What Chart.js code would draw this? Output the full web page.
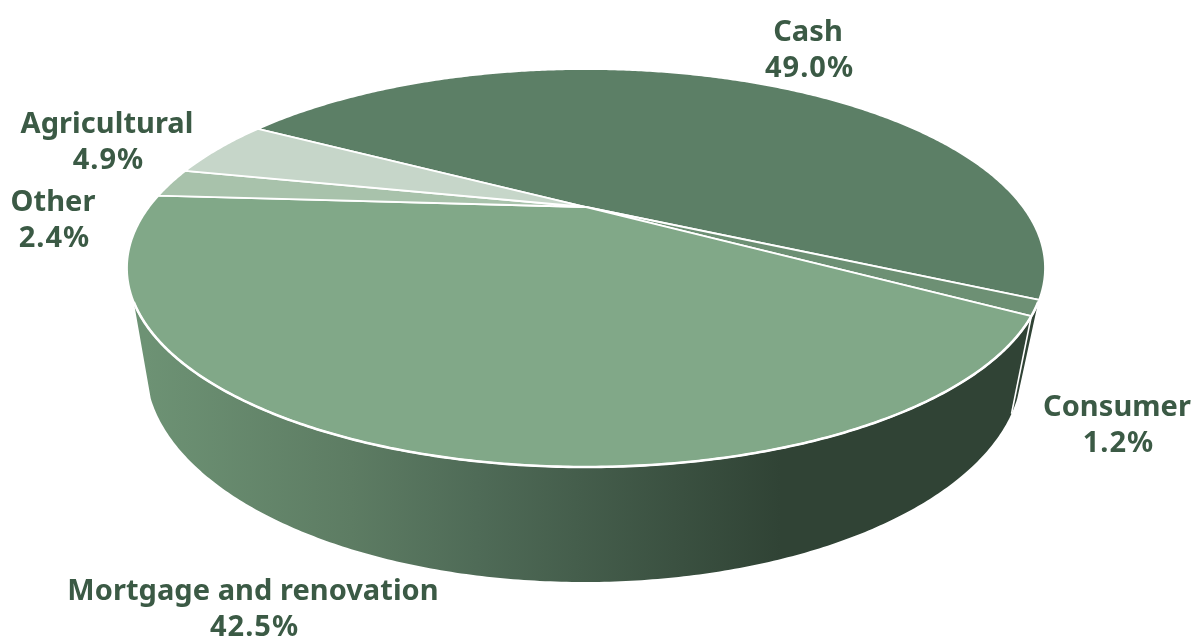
<!DOCTYPE html>
<html>
<head>
<meta charset="utf-8">
<style>html,body{margin:0;padding:0;background:#fff}canvas{display:block}</style>
<script src="https://cdn.jsdelivr.net/npm/chart.js@4"></script>
</head>
<body>
<canvas id="c" width="1195" height="641"></canvas>
<script>
const categories = ["Cash", "Consumer", "Mortgage and renovation", "Other", "Agricultural"];
const shares = [49.0, 1.2, 42.5, 2.4, 4.9];
const sliceColors = ["#5c7f66", "#6d9074", "#81a888", "#a8c2ab", "#c6d6c9"];
const labelCenters = [[808, 33], [1117, 408], [253, 592], [53, 203], [107, 125]];
const lineGap = 36;
const textColor = "#3b5a45";
const firstSliceAngle = 300;
const top3d = {cx: 586, cy: 268, rx: 459, ry: 199, k: 0.3065};
const bottom3d = {cx: 584, cy: 367, rx: 438, ry: 215, k: 0.33};
const wallRange = [117, 243];

// Perspective view of a unit disc: its centre lands above the ellipse's midpoint.
function project(p, a) {
  const x = Math.cos(a), y = -Math.sin(a);
  const s = 1 - p.k * p.k, w = 1 + p.k * y;
  return [p.cx + p.rx * Math.sqrt(s) * x / w, p.cy - p.ry * p.k - p.ry * s * y / w];
}
function hub(p) { return [p.cx, p.cy - p.ry * p.k]; }
function arcPoints(p, a0, a1) {
  const n = Math.max(2, Math.ceil(Math.abs(a1 - a0) / (Math.PI / 360)));
  const pts = [];
  for (let i = 0; i <= n; i++) pts.push(project(p, a0 + (a1 - a0) * i / n));
  return pts;
}
function trace(ctx, pts, open) {
  ctx.beginPath();
  pts.forEach((q, i) => i ? ctx.lineTo(q[0], q[1]) : ctx.moveTo(q[0], q[1]));
  if (!open) ctx.closePath();
}
function clockDeg(a) { return (a + Math.PI / 2) * 180 / Math.PI; }
function fromClock(d) { return d * Math.PI / 180 - Math.PI / 2; }

const perspectivePie = {
  id: "perspectivePie",
  beforeDatasetDraw(chart) {
    const ctx = chart.ctx;
    const arcs = chart.getDatasetMeta(0).data;
    ctx.save();
    ctx.lineJoin = "round";

    // side wall
    const grad = ctx.createLinearGradient(146, 0, 1040, 0);
    [[0, "#6d9274"], [0.23, "#5d7c63"], [0.37, "#4f6b57"], [0.71, "#304335"], [1, "#304335"]]
      .forEach(s => grad.addColorStop(s[0], s[1]));
    const rims = [];
    arcs.forEach(arc => {
      let s = clockDeg(arc.startAngle), e = clockDeg(arc.endAngle);
      if (s >= 360) { s -= 360; e -= 360; }
      const d0 = Math.max(s, wallRange[0]);
      const d1 = Math.min(e, wallRange[1]);
      if (d1 <= d0) return;
      const a0 = fromClock(d0), a1 = fromClock(d1);
      trace(ctx, arcPoints(top3d, a0, a1).concat(arcPoints(bottom3d, a1, a0)));
      ctx.fillStyle = grad;
      ctx.fill();
      rims.push(arcPoints(top3d, a0, a1));
      if (d0 > wallRange[0]) {
        const p = project(top3d, a0), b = project(bottom3d, a0);
        ctx.beginPath(); ctx.moveTo(p[0], p[1]); ctx.lineTo(b[0], b[1]);
        ctx.strokeStyle = "#ffffff"; ctx.lineWidth = 1.6; ctx.stroke();
      }
    });

    // top face
    arcs.forEach((arc, i) => {
      trace(ctx, [hub(top3d)].concat(arcPoints(top3d, arc.startAngle, arc.endAngle)));
      ctx.fillStyle = sliceColors[i];
      ctx.fill();
      ctx.strokeStyle = "#ffffff";
      ctx.lineWidth = 1.8;
      ctx.stroke();
    });

    // brighter rim where the top meets the wall
    rims.forEach(pts => {
      trace(ctx, pts, true);
      ctx.strokeStyle = "#ffffff";
      ctx.lineWidth = 2.6;
      ctx.stroke();
    });
    ctx.restore();
    return false;
  },
  afterDraw(chart) {
    const ctx = chart.ctx;
    ctx.save();
    ctx.font = 'bold 29px "Noto Sans"';
    ctx.fillStyle = textColor;
    ctx.textAlign = "center";
    ctx.textBaseline = "middle";
    categories.forEach((name, i) => {
      const [x, y] = labelCenters[i];
      ctx.letterSpacing = "0.05px";
      ctx.fillText(name, x, y);
      ctx.letterSpacing = "1px";
      ctx.fillText(shares[i].toFixed(1) + "%", x + 1.5, y + lineGap);
    });
    ctx.restore();
  }
};

new Chart(document.getElementById("c"), {
  type: "pie",
  data: {
    labels: categories,
    datasets: [{data: shares, backgroundColor: sliceColors, borderColor: "#ffffff"}]
  },
  options: {
    responsive: false,
    animation: false,
    rotation: firstSliceAngle,
    plugins: {legend: {display: false}, tooltip: {enabled: false}}
  },
  plugins: [perspectivePie]
});
</script>
</body>
</html>
